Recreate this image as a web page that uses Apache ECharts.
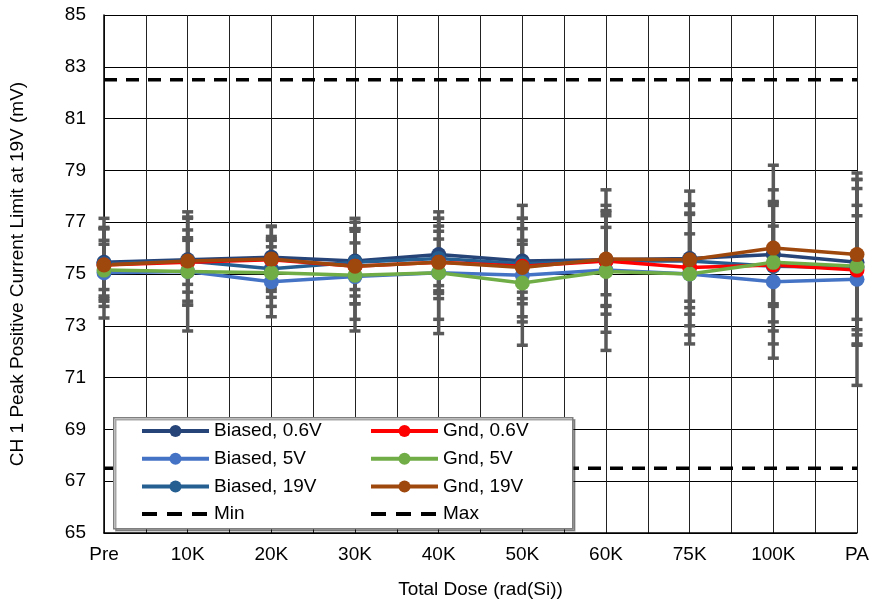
<!DOCTYPE html>
<html><head><meta charset="utf-8">
<script src="https://cdn.jsdelivr.net/npm/echarts@6/dist/echarts.min.js"></script>
<style>html,body{margin:0;padding:0;background:#fff}#c{width:872px;height:606px}</style>
</head><body><div id="c"></div>
<script>
const categories = ['Pre','10K','20K','30K','40K','50K','60K','75K','100K','PA'];

const biased06  = [75.45, 75.55, 75.65, 75.50, 75.75, 75.50, 75.55, 75.60, 75.75, 75.45];
const biased5   = [75.05, 75.10, 74.70, 74.90, 75.05, 74.95, 75.15, 75.00, 74.70, 74.80];
const biased19  = [75.40, 75.50, 75.20, 75.45, 75.60, 75.40, 75.50, 75.50, 75.30, 75.25];
const gnd06     = [75.35, 75.45, 75.55, 75.30, 75.45, 75.30, 75.50, 75.25, 75.35, 75.15];
const gnd5      = [75.15, 75.10, 75.05, 74.95, 75.05, 74.65, 75.10, 75.00, 75.45, 75.30];
const gnd19     = [75.35, 75.50, 75.58, 75.30, 75.45, 75.25, 75.58, 75.55, 76.00, 75.75];

const biased06Err = [1.70, 1.60, 1.20, 1.65, 1.40, 1.65, 2.10, 2.60, 3.45, 3.20];
const biased5Err  = [1.75, 2.30, 1.35, 2.10, 2.35, 2.70, 3.10, 2.70, 2.95, 4.10];
const biased19Err = [1.35, 1.20, 1.10, 1.30, 1.55, 1.35, 1.75, 1.80, 2.50, 2.00];
const gnd06Err    = [0.95, 0.85, 0.90, 0.90, 0.90, 1.00, 1.30, 1.30, 1.50, 2.50];
const gnd5Err     = [1.00, 1.30, 1.30, 1.70, 1.80, 1.50, 2.35, 2.35, 2.30, 3.00];
const gnd19Err    = [1.40, 1.70, 1.25, 1.45, 1.20, 1.90, 1.80, 2.10, 2.25, 2.90];

const minLimit = [67.5, 67.5, 67.5, 67.5, 67.5, 67.5, 67.5, 67.5, 67.5, 67.5];
const maxLimit = [82.5, 82.5, 82.5, 82.5, 82.5, 82.5, 82.5, 82.5, 82.5, 82.5];

const FONT = 'Liberation Sans, Arial, sans-serif';
const FS = 19;

const seriesDefs = [
  {name:'Biased, 0.6V', values:biased06, err:biased06Err, color:'#264478'},
  {name:'Biased, 5V',   values:biased5,  err:biased5Err,  color:'#4472C4'},
  {name:'Biased, 19V',  values:biased19, err:biased19Err, color:'#255E91'},
  {name:'Gnd, 0.6V',    values:gnd06,    err:gnd06Err,    color:'#FF0000'},
  {name:'Gnd, 5V',      values:gnd5,     err:gnd5Err,     color:'#70AD47'},
  {name:'Gnd, 19V',     values:gnd19,    err:gnd19Err,    color:'#9E480E'}
];

function renderErr(params, api) {
  const x = api.value(0), lo = api.value(1), hi = api.value(2);
  const p1 = api.coord([x, hi]), p2 = api.coord([x, lo]);
  const w = 5.5;
  const stem = {stroke:'#595959', lineWidth:3.5};
  const cap = {stroke:'#595959', lineWidth:3.5};
  return {type:'group', children:[
    {type:'line', shape:{x1:p1[0], y1:p1[1], x2:p2[0], y2:p2[1]}, style:stem},
    {type:'line', shape:{x1:p1[0]-w, y1:p1[1], x2:p1[0]+w, y2:p1[1]}, style:cap},
    {type:'line', shape:{x1:p2[0]-w, y1:p2[1], x2:p2[0]+w, y2:p2[1]}, style:cap}
  ]};
}

const series = [];
seriesDefs.forEach(function(d){
  series.push({
    type:'custom', name:d.name + ' err', z:1, silent:true,
    renderItem: renderErr,
    encode:{x:0, y:[1,2]},
    data: d.values.map(function(v,i){ return [i, v - d.err[i], v + d.err[i]]; })
  });
});
seriesDefs.forEach(function(d){
  series.push({
    type:'line', name:d.name, z:3,
    data: d.values.map(function(v,i){ return [i, v]; }),
    symbol:'circle', symbolSize:15,
    itemStyle:{color:d.color},
    lineStyle:{color:d.color, width:3.5},
    emphasis:{disabled:true}
  });
});
series.push({
  type:'line', name:'Min', z:2, symbol:'none',
  data: minLimit.map(function(v,i){ return [i, v]; }),
  itemStyle:{color:'#000'},
  lineStyle:{color:'#000', width:3.5, type:[13,9]}
});
series.push({
  type:'line', name:'Max', z:2, symbol:'none',
  data: maxLimit.map(function(v,i){ return [i, v]; }),
  itemStyle:{color:'#000'},
  lineStyle:{color:'#000', width:3.5, type:[13,9]}
});

const legendCommon = {
  orient:'vertical', top:421.5, itemWidth:67, itemHeight:15, itemGap:8.7,
  padding:0, z:60, selectedMode:false,
  lineStyle:{width:4},
  textStyle:{fontSize:FS, fontFamily:FONT, color:'#000', lineHeight:19}
};
const hiddenSym = {color:'rgba(0,0,0,0)', borderWidth:0, opacity:0};
const dashItem = {color:'#000', width:4, type:[15,10]};

const chart = echarts.init(document.getElementById('c'), null, {renderer:'canvas'});
chart.setOption({
  animation:false,
  backgroundColor:'#fff',
  grid:{left:104, right:15, top:15, bottom:73},
  xAxis:{
    type:'value', min:0, max:9, interval:0.5,
    name:'Total Dose (rad(Si))', nameLocation:'middle', nameGap:47,
    nameTextStyle:{fontSize:FS, fontFamily:FONT, color:'#000'},
    axisLine:{show:true, lineStyle:{color:'#000', width:1.5}},
    axisTick:{show:false},
    axisLabel:{fontSize:FS, fontFamily:FONT, color:'#000', margin:12,
      formatter:function(v){ return Number.isInteger(v) ? categories[v] : ''; }},
    splitLine:{show:true, lineStyle:{color:'#222', width:1}}
  },
  yAxis:{
    type:'value', min:65, max:85, interval:2,
    name:'CH 1 Peak Positive Current Limit at 19V (mV)', nameLocation:'middle', nameGap:77,
    nameTextStyle:{fontSize:FS, fontFamily:FONT, color:'#000'},
    axisLine:{show:true, lineStyle:{color:'#000', width:1.5}},
    axisTick:{show:false},
    axisLabel:{fontSize:FS, fontFamily:FONT, color:'#000', margin:18},
    splitLine:{show:true, lineStyle:{color:'#000', width:1}}
  },
  legend:[
    Object.assign({left:140, data:['Biased, 0.6V','Biased, 5V','Biased, 19V',
      {name:'Min', itemStyle:hiddenSym, lineStyle:dashItem}]}, legendCommon),
    Object.assign({left:369, data:['Gnd, 0.6V','Gnd, 5V','Gnd, 19V',
      {name:'Max', itemStyle:hiddenSym, lineStyle:dashItem}]}, legendCommon)
  ],
  graphic:[{
    type:'rect', left:113, top:417, z:50,
    shape:{width:459, height:111},
    style:{fill:'#fff', stroke:'#7f7f7f', lineWidth:1.5,
      shadowOffsetX:2, shadowOffsetY:2, shadowBlur:0, shadowColor:'rgba(0,0,0,0.35)'}
  }],
  series:series
});
</script>
</body></html>
